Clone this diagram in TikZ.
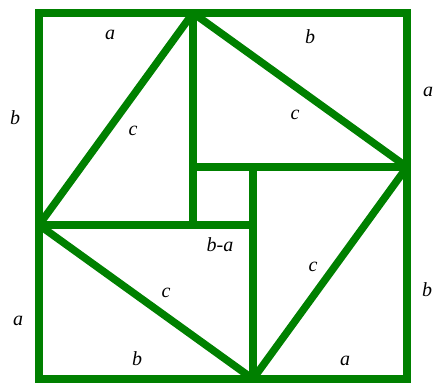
\documentclass[tikz,border=0pt]{standalone}
\usepackage{fontspec}
\setmainfont{Liberation Serif}
\definecolor{grn}{RGB}{0,128,0}
\begin{document}
\begin{tikzpicture}[x=1pt,y=-1pt,
  edge/.style={draw=grn,line width=7.5pt},
  lbl/.style={font=\itshape\fontsize{20}{20}\selectfont,inner sep=0pt}]
\useasboundingbox (0,0) rectangle (437,383);
% outer square corners
\coordinate (TL) at (39,13);
\coordinate (TR) at (407,13);
\coordinate (BR) at (407,379);
\coordinate (BL) at (39,379);
% vertices of tilted square
\coordinate (T) at (193,13);
\coordinate (R) at (407,167);
\coordinate (B) at (253,379);
\coordinate (L) at (39,225);
% inner square corners
\coordinate (i1) at (193,167);
\coordinate (i2) at (253,167);
\coordinate (i3) at (253,225);
\coordinate (i4) at (193,225);
\draw[edge,line join=bevel] (T) -- (R) -- (B) -- (L) -- cycle;
\draw[edge] (T) -- (i4);
\draw[edge] (i1) -- (R);
\draw[edge] (i2) -- (B);
\draw[edge] (L) -- (i3);
\draw[edge] (TL) -- (TR) -- (BR) -- (BL) -- cycle;
% labels
\node[lbl] (la1) at (110,35) {a};
\node[lbl] (lb1) at (310,37) {b};
\node[lbl] (lb2) at (15,118) {b};
\node[lbl] (lc1) at (133,131) {c};
\node[lbl] (lc2) at (295,115) {c};
\node[lbl] (la2) at (428,92) {a};
\node[lbl] (lba) at (220,245) {b-a};
\node[lbl] (lc3) at (313,267) {c};
\node[lbl] (lc4) at (166,293) {c};
\node[lbl] (la3) at (18,321) {a};
\node[lbl] (lb3) at (427,290) {b};
\node[lbl] (lb4) at (137,359) {b};
\node[lbl] (la4) at (345,361) {a};
\end{tikzpicture}
\end{document}
